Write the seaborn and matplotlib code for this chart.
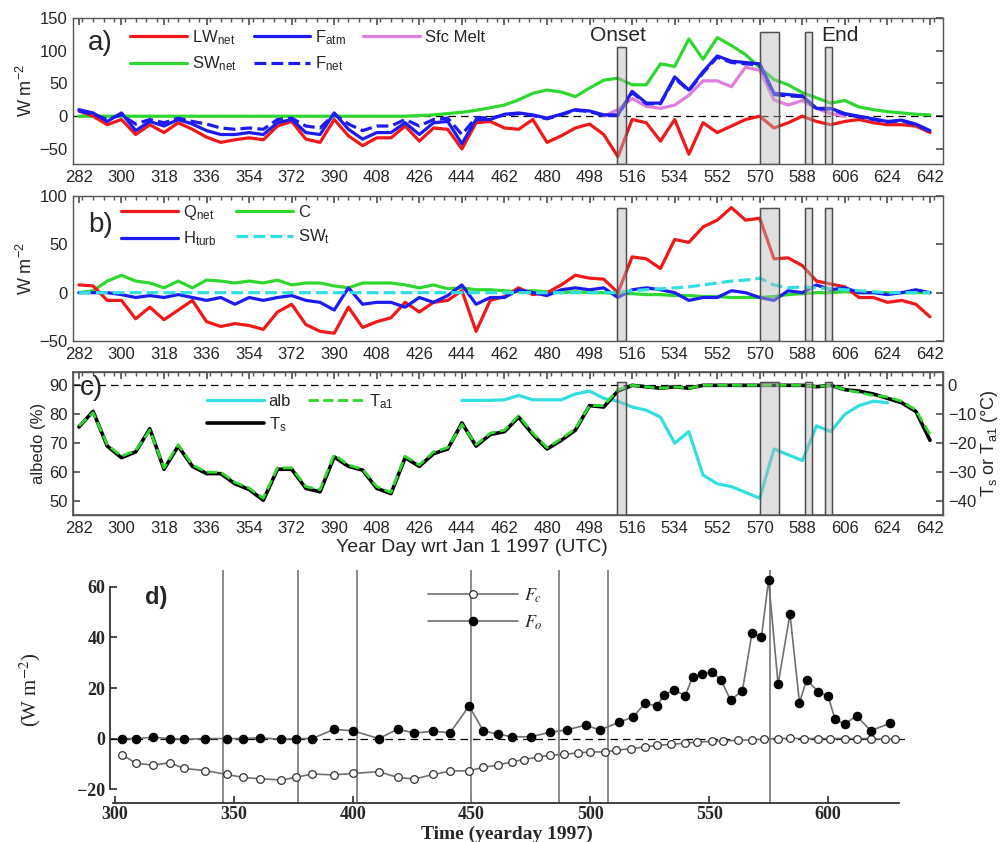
import numpy as np
import matplotlib
matplotlib.use("Agg")
import matplotlib.pyplot as plt
from matplotlib.patches import Rectangle
from matplotlib.ticker import MultipleLocator
import seaborn as sns

# ---------------- data ----------------
days = np.arange(282, 643, 6)

lw_net = [8, 0, -13, -5, -28, -13, -25, -10, -20, -32,
          -40, -36, -33, -36, -15, -8, -35, -40, -5, -30,
          -45, -33, -33, -15, -38, -18, -20, -50, -10, -8,
          -18, -20, -5, -40, -30, -18, -12, -28, -62, -5,
          -10, -38, -5, -58, -10, -25, -15, -5, 0, -18,
          -10, 0, -8, -13, -8, -5, -10, -13, -13, -15, -25]
f_atm = [10, 5, -8, 5, -22, -8, -15, -5, -12, -22,
         -28, -28, -25, -28, -10, -5, -25, -28, 5, -20,
         -35, -25, -25, -10, -28, -10, -8, -42, -5, -5,
         3, 5, 2, -3, 3, 10, 8, 2, 2, 38,
         20, 20, 60, 40, 68, 92, 84, 82, 80, 35,
         33, 31, 12, 12, 4, 0, -4, -8, -6, -12, -22]
f_net = [8, 3, -5, 2, -12, -5, -10, -3, -8, -12,
         -18, -20, -18, -20, -5, -3, -15, -18, 3, -12,
         -22, -15, -15, -5, -15, -5, -3, -28, -2, -3,
         2, 4, 1, -4, 2, 9, 7, 1, 1, 36,
         19, 19, 58, 39, 66, 90, 82, 80, 78, 33,
         31, 30, 11, 11, 3, -1, -5, -9, -7, -13, -23]
sw_net = [0, 0, 0, 0, 0, 0, 0, 0, 0, 0,
          0, 0, 0, 0, 0, 0, 0, 0, 0, 0,
          0, 0, 0, 0, 1, 2, 4, 6, 9, 13,
          17, 25, 35, 40, 37, 30, 43, 55, 58, 48,
          48, 80, 76, 118, 87, 120, 108, 94, 74, 56,
          48, 36, 28, 20, 24, 14, 10, 7, 5, 3, 2]
melt_days = days[37:55]
sfc_melt = [0, 10, 27, 15, 12, 17, 32, 54, 54, 45, 75, 70, 25, 17, 24, 12, 4, 0]

q_net = [8, 7, -8, -8, -27, -15, -28, -18, -8, -30,
         -35, -32, -34, -38, -20, -12, -33, -40, -42, -15,
         -36, -30, -26, -10, -20, -10, -8, 2, -40, -8,
         -4, 5, -2, 0, 8, 18, 15, 14, 0, 37,
         35, 25, 55, 52, 68, 75, 88, 75, 77, 35,
         36, 28, 12, 9, 6, -5, -5, -10, -8, -12, -25]
h_turb = [0, 0, 0, -2, -5, -3, -5, -2, -5, -8,
          -5, -12, -5, -8, -5, -3, -8, -10, -18, 5,
          -12, -10, -10, -15, -5, -10, -3, 8, -12, -5,
          -5, 3, 0, -3, 3, 5, 3, 5, -5, 3,
          5, 3, 0, -8, -5, -5, 2, 0, -5, -8,
          2, 0, 8, 3, 5, 0, 0, -2, 0, 3, 0]
cond = [0, 2, 12, 18, 12, 10, 5, 12, 5, 13,
        12, 10, 12, 10, 13, 8, 10, 10, 7, 5,
        10, 10, 10, 8, 5, 8, 4, 5, 3, 3,
        2, 1, 2, 1, 0, 1, 0, 0, -1, -1,
        -2, -2, -3, -3, -4, -4, -5, -5, -5, -4,
        -2, -1, 0, 0, 1, 0, 0, 0, 0, 0, 0]
sw_t = [0] * 39 + [2, 3, 4, 5, 6, 8, 10, 12, 13, 15, 8,
                   5, 6, 5, 4, 3, 2, 1, 0, 0, 0, 0]

t_s = [-14.4, -9, -21, -25, -23, -15, -29, -21, -28, -30.5,
       -30.5, -34, -36, -39.7, -29, -29, -35.6, -36.8, -24.7, -28,
       -29.3, -35.6, -37.4, -25, -28, -23.6, -22, -13, -21, -17,
       -16, -11, -17, -22, -19, -15.5, -7, -7.5, -2, 0,
       -0.5, -1, -0.5, -1, 0, 0, 0, 0, 0, 0,
       0, 0, -0.5, 0, -1.5, -2, -3, -4.5, -6, -9, -19]
t_a1 = [-14, -9.5, -20.5, -24.5, -22.5, -15.5, -28.5, -20.5, -27.5, -30,
        -30, -33.5, -35.5, -39, -28.5, -28.5, -35, -36, -24, -27.5,
        -29, -35, -37, -24.5, -27.5, -23, -21.5, -13.5, -20.5, -16.5,
        -15.5, -10.5, -16.5, -21.5, -18.5, -15, -7, -7, -1.5, 0,
        -0.5, -1, -0.5, -1, 0, 0, 0, 0, 0, 0,
        0, 0, -0.5, 0, -1.5, -2.5, -3.5, -4, -5.5, -8.5, -17]
alb_days = days[27:58]
albedo = [84.8, 84.8, 84.8, 85, 86.5, 85, 85, 85, 87, 88,
          85.5, 84.5, 82.5, 81.4, 79, 70, 74, 59, 56, 55,
          53, 51, 68, 66, 64, 76, 74, 80, 83, 84.5, 84]

# shaded melt-period boxes (start day, width) and their tops in panels a/b/c
box_start = [509.4, 570.1, 589.1, 597.6]
box_width = [4.0, 8.2, 2.8, 2.9]
box_top_a = [106, 128, 128, 106]
box_top_b = [88, 88, 88, 88]
box_top_c = [91, 91, 91, 91]

# panel d (ocean / conductive heat flux)
fo_days = [303, 309, 316, 323, 329, 338, 347, 354, 361, 370,
           376, 383, 392, 400, 411, 419, 426, 434, 441, 449,
           455, 461, 467, 475, 483, 490, 498, 504, 512, 518,
           523, 528, 531, 535, 540, 543, 547, 551, 555, 559,
           564, 568, 572, 575, 579, 584, 588, 591, 596, 600,
           603, 607, 612, 618, 626]
f_o = [0, 0, 0.5, 0, -0.3, 0, 0, 0, 0.3, -0.3,
       0, 0, 3.6, 3.1, 0, 3.7, 2.2, 2.9, 2.3, 12.9,
       3, 1.8, 0.7, 0.7, 2.5, 3.4, 5.3, 3.4, 6.4, 8.6,
       13.9, 12.9, 17.2, 19.2, 17, 24.5, 25.5, 26.5, 23.2, 15.2,
       19, 41.7, 40.1, 62.8, 21.5, 49.3, 14.2, 23.2, 18.5, 16.8,
       7.6, 5.7, 9, 3.1, 6]
fc_days = [303, 309, 316, 323, 329, 338, 347, 354, 361, 370,
           376, 383, 392, 400, 411, 419, 426, 434, 441, 449,
           455, 461, 467, 472, 478, 483, 489, 495, 500, 506,
           511, 517, 523, 528, 534, 540, 545, 551, 556, 562,
           568, 573, 579, 584, 590, 596, 601, 607, 612, 618,
           624, 628]
f_c = [-6.5, -9.8, -10.5, -9.6, -11.8, -12.7, -14.2, -15.4, -15.9, -16.4,
       -15.4, -14, -14.4, -13.8, -13.1, -15.4, -16, -14.2, -12.9, -12.7,
       -11.4, -10.5, -9.2, -8.3, -7.3, -6.6, -6.2, -5.7, -5.3, -5.3,
       -4.6, -4, -3.3, -2.7, -2.3, -1.8, -1.4, -1.1, -0.9, -0.7,
       -0.5, -0.2, 0, 0.1, 0, 0, 0, 0, 0, 0,
       -0.3, -0.3]
event_days = [345.5, 377, 402, 450, 487, 507.5, 575.5]

# ---------------- style ----------------
sns.set_theme(style="white")
plt.rcParams["font.family"] = ["Liberation Sans", "DejaVu Sans"]
plt.rcParams["mathtext.fontset"] = "custom"
plt.rcParams["mathtext.rm"] = "Liberation Sans"
plt.rcParams["mathtext.it"] = "Liberation Sans:italic"

RED = "#f01818"
GREEN = "#2ed82e"
BLUE = "#1c1cf0"
MAGENTA = "#e07ee0"
CYAN = "#33dede"
FRAME = "#555555"
LW = 2.3
TICK_FS = 12

fig = plt.figure(figsize=(10.05, 8.42), dpi=100)
W, H = 1005.0, 842.0


def px_axes(left, top, right, bottom):
    return fig.add_axes([left / W, 1 - bottom / H, (right - left) / W, (bottom - top) / H])


def draw(ax, x, y, **kw):
    sns.lineplot(x=x, y=y, ax=ax, **kw)
    return ax.lines[-1]


def style_top(ax, ylim, yticks, right_ticks=True):
    ax.set_xlim(279.5, 647.5)
    ax.set_ylim(*ylim)
    ax.set_yticks(yticks)
    ax.set_xticks(np.arange(282, 643, 18))
    ax.xaxis.set_minor_locator(MultipleLocator(4.5))
    ax.tick_params(axis="both", which="both", direction="in", top=True,
                   right=right_ticks, labelsize=TICK_FS, pad=4, color=FRAME)
    ax.tick_params(which="major", length=5)
    ax.tick_params(which="minor", length=3)
    for s in ax.spines.values():
        s.set_color(FRAME)
        s.set_linewidth(1.0)
    ax.set_xlabel("")


def add_boxes(ax, bottom, tops):
    for x0, w, top in zip(box_start, box_width, tops):
        ax.add_patch(Rectangle((x0, bottom), w, top - bottom, facecolor="#b8b8b8",
                               edgecolor="#505050", lw=1.0, alpha=0.45, zorder=5))
        ax.add_patch(Rectangle((x0, bottom), w, top - bottom, facecolor="none",
                               edgecolor="#505050", lw=1.0, zorder=6))


# ---------------- panel a ----------------
ax_a = px_axes(73, 18, 943, 164)
ylim_a = (-73, 150)
ax_a.axhline(0, color="black", ls=(0, (6, 4)), lw=0.9, zorder=1)
h_melt = draw(ax_a, melt_days, sfc_melt, color=MAGENTA, lw=LW)
h_sw = draw(ax_a, days, sw_net, color=GREEN, lw=LW)
h_lw = draw(ax_a, days, lw_net, color=RED, lw=LW)
h_fnet = draw(ax_a, days, f_net, color=BLUE, lw=LW, linestyle="--")
h_fatm = draw(ax_a, days, f_atm, color=BLUE, lw=LW)
ax_a.lines[-1].set_zorder(3)
add_boxes(ax_a, ylim_a[0], box_top_a)
style_top(ax_a, ylim_a, [-50, 0, 50, 100, 150])
ax_a.set_ylabel("W m$^{-2}$", fontsize=13, labelpad=2)
ax_a.text(0.017, 0.83, "a)", transform=ax_a.transAxes, fontsize=20, va="center")
ax_a.text(510, 124, "Onset", fontsize=15, ha="center", va="center")
ax_a.text(604, 124, "End", fontsize=15, ha="center", va="center")
leg_a = ax_a.legend(handles=[h_lw, h_sw, h_fatm, h_fnet, h_melt],
                    labels=["LW$_{\\mathrm{net}}$", "SW$_{\\mathrm{net}}$", "F$_{\\mathrm{atm}}$",
                            "F$_{\\mathrm{net}}$", "Sfc Melt"],
                    ncol=3, loc="upper left", bbox_to_anchor=(0.066, 0.93), frameon=False,
                    fontsize=12, handlelength=3.4, handletextpad=0.3, columnspacing=1.0,
                    labelspacing=0.45, borderaxespad=0, borderpad=0)
leg_a.set_zorder(8)

# ---------------- panel b ----------------
ax_b = px_axes(73, 196, 943, 341)
ylim_b = (-50, 100)
draw(ax_b, days, cond, color=GREEN, lw=LW)
h_q = draw(ax_b, days, q_net, color=RED, lw=LW)
h_h = draw(ax_b, days, h_turb, color=BLUE, lw=LW)
h_c = ax_b.lines[0]
h_swt = draw(ax_b, days, sw_t, color=CYAN, lw=LW, linestyle="--")
add_boxes(ax_b, ylim_b[0], box_top_b)
style_top(ax_b, ylim_b, [-50, 0, 50, 100])
ax_b.set_ylabel("W m$^{-2}$", fontsize=13, labelpad=2)
ax_b.text(0.017, 0.8, "b)", transform=ax_b.transAxes, fontsize=20, va="center")
ax_b.legend(handles=[h_q, h_h, h_c, h_swt],
            labels=["Q$_{\\mathrm{net}}$", "H$_{\\mathrm{turb}}$", "C", "SW$_{\\mathrm{t}}$"],
            ncol=2, loc="upper left", bbox_to_anchor=(0.055, 0.95), frameon=False,
            fontsize=12, handlelength=3.4, handletextpad=0.3, columnspacing=1.2,
            labelspacing=0.45, borderaxespad=0, borderpad=0)

# ---------------- panel c ----------------
ax_c = px_axes(73, 372, 943, 515)
ylim_c = (45.2, 94.6)
ax_c.axhline(90, color="black", ls=(0, (6, 4)), lw=0.9, zorder=1)
h_alb = draw(ax_c, alb_days, albedo, color=CYAN, lw=LW)
style_top(ax_c, ylim_c, [50, 60, 70, 80, 90], right_ticks=False)
ax_c.set_ylabel("albedo (%)", fontsize=12, labelpad=2)
ax_c2 = ax_c.twinx()
h_ts = draw(ax_c2, days, t_s, color="black", lw=2.6)
h_ta = draw(ax_c2, days, t_a1, color=GREEN, lw=2.0, linestyle="--")
add_boxes(ax_c2, ylim_c[0] - 90, [t - 90 for t in box_top_c])
ax_c2.set_ylim(ylim_c[0] - 90, ylim_c[1] - 90)
ax_c2.set_yticks([-40, -30, -20, -10, 0])
ax_c2.tick_params(axis="y", direction="in", labelsize=TICK_FS, length=5, color=FRAME)
ax_c2.set_ylabel("T$_{\\mathrm{s}}$ or T$_{\\mathrm{a1}}$ (°C)", fontsize=13, labelpad=2)
for s in ax_c2.spines.values():
    s.set_color(FRAME)
ax_c2.grid(False)
ax_c.text(0.008, 0.888, "c)", transform=ax_c.transAxes, fontsize=20, va="center")
ax_c2.legend(handles=[h_alb, h_ts, h_ta],
             labels=["alb", "T$_{\\mathrm{s}}$", "T$_{\\mathrm{a1}}$"],
             ncol=2, loc="upper left", bbox_to_anchor=(0.154, 0.86), frameon=False,
             fontsize=12, handlelength=3.4, handletextpad=0.3, columnspacing=1.0,
             labelspacing=0.35, borderaxespad=0, borderpad=0)
fig.text(472 / W, 1 - 548 / H, "Year Day wrt Jan 1 1997 (UTC)", fontsize=14,
         ha="center", va="center")

# ---------------- panel d ----------------
SERIF = ["Liberation Serif", "DejaVu Serif"]
ax_d = px_axes(110, 570, 905, 803)
ax_d.set_xlim(297.9, 632.4)
ax_d.set_ylim(-25.5, 66.7)
for d in event_days:
    ax_d.axvline(d, color="#8a8a8a", lw=1.4, zorder=1)
ax_d.axhline(0, color="black", ls=(0, (6, 4)), lw=0.9, zorder=1)
h_fc = draw(ax_d, fc_days, f_c, color="#707070", lw=1.2, marker="o", markersize=5.5,
            markerfacecolor="white", markeredgecolor="#333333", markeredgewidth=0.9)
h_fo = draw(ax_d, fo_days, f_o, color="#707070", lw=1.2, marker="o", markersize=6,
            markerfacecolor="black", markeredgecolor="black", markeredgewidth=0.9)
ax_d.set_xticks([300, 350, 400, 450, 500, 550, 600])
ax_d.set_yticks([-20, 0, 20, 40, 60])
ax_d.set_yticklabels(["\u221220", "0", "20", "40", "60"])
ax_d.tick_params(axis="both", direction="in", length=5, labelsize=13, color="#333333",
                 left=True, bottom=True)
ax_d.tick_params(axis="x", pad=2)
for t in ax_d.get_xticklabels() + ax_d.get_yticklabels():
    t.set_family(SERIF)
    t.set_fontweight("bold")
ax_d.spines["top"].set_visible(False)
ax_d.spines["right"].set_visible(False)
ax_d.spines["left"].set_bounds(-20, 60)
ax_d.spines["bottom"].set_bounds(299, 630)
for s in ("left", "bottom"):
    ax_d.spines[s].set_color("#333333")
    ax_d.spines[s].set_linewidth(1.3)
ax_d.set_xlabel("")
ax_d.text(0.044, 0.88, "d)", transform=ax_d.transAxes, fontsize=17, fontweight="bold",
          va="center")
leg_d = ax_d.legend(handles=[h_fc, h_fo], labels=["$F_c$", "$F_o$"], loc="upper left",
                    bbox_to_anchor=(0.40, 0.93), frameon=False, fontsize=13,
                    handlelength=5.0, handletextpad=0.3, labelspacing=0.5,
                    borderaxespad=0, borderpad=0)
for t in leg_d.get_texts():
    t.set_math_fontfamily("stix")
fig.text(30 / W, 1 - 690 / H, "(W m$^{-2}$)", rotation=90, fontsize=15, family=SERIF,
         ha="center", va="center", math_fontfamily="stix")
fig.text(507 / W, 1 - 834 / H, "Time (yearday 1997)", fontsize=14, family=SERIF,
         fontweight="bold", ha="center", va="center")

fig.savefig("out.png", dpi=100)
